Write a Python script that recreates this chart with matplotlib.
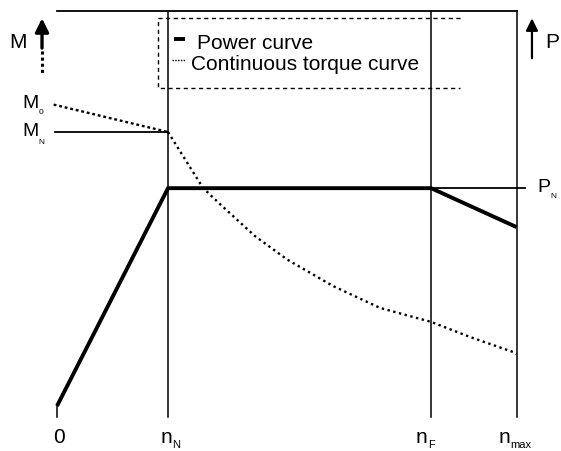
import matplotlib.pyplot as plt
import numpy as np

plt.rcParams['font.family'] = ['Liberation Sans', 'DejaVu Sans']

# speeds (rated speed n_N = 1) and torque/power (rated torque M_N = 1)
n_N = 1.0
n_F = 3.37
n_max = 4.14
M_0 = 1.10
M_N = 1.0
P_N = 0.795
P_max_end = 0.653
top = 1.44
bottom = -0.04

power_n = [0.0, n_N, n_F, n_max]
power_v = [0.0, P_N, P_N, P_max_end]

torque_n = [-0.03, 1.0, 1.315, 1.468, 1.784, 2.072, 2.486, 2.91, 3.37, 3.72, 4.11, 4.14]
torque_v = [M_0, 1.0, 0.796, 0.737, 0.620, 0.535, 0.438, 0.358, 0.307, 0.252, 0.197, 0.19]

tick_pos = [0.0, n_N, n_F, n_max]
tick_main = ['0', 'n', 'n', 'n']
tick_sub = ['', 'N', 'F', 'max']
tick_shift = [0.02, 0.04, -0.03, -0.06]

fig = plt.figure(figsize=(5.61, 4.52), dpi=100)
ax = fig.add_axes([0, 0, 1, 1])
ax.set_xlim(-0.5135, 4.5405)
ax.set_ylim(-0.1642, 1.4854)
ax.axis('off')

# frame lines
ax.plot([0, n_max], [top, top], color='black', lw=1.3)
for x in [n_N, n_F, n_max]:
    ax.plot([x, x], [bottom, top], color='black', lw=1.1)
ax.plot([0, 0], [bottom, 0], color='black', lw=1.1)
ax.plot([-0.02, n_N], [M_N, M_N], color='black', lw=1.3)
ax.plot([n_F, 4.22], [P_N, P_N], color='black', lw=1.3)

# curves
ax.plot(power_n, power_v, color='black', lw=2.8, solid_capstyle='butt')
ax.plot(torque_n[:2], torque_v[:2], color='black', lw=1.7, linestyle=(0, (1.2, 1.2)))
ax.plot(torque_n[1:], torque_v[1:], color='black', lw=1.7, linestyle=(0, (1, 1.5)))

# legend box (open on the right)
bx0, bx1, by0, by1 = 0.91, 3.63, 1.16, 1.416
ax.plot([bx1, bx0, bx0, bx1], [by1, by1, by0, by0], color='black', lw=1.0, linestyle=(0, (3, 2.5)))
ax.plot([1.05, 1.15], [1.34, 1.34], color='black', lw=2.8, solid_capstyle='butt')
ax.text(1.26, 1.327, 'Power curve', fontsize=15, va='center', ha='left')
ax.plot([1.04, 1.15], [1.262, 1.262], color='black', lw=1.0, linestyle=(0, (1, 1)))
ax.text(1.21, 1.25, 'Continuous torque curve', fontsize=15, va='center', ha='left')

# axis arrows
ax.annotate('', xy=(-0.135, 1.425), xytext=(-0.135, 1.296),
            arrowprops=dict(arrowstyle='-|>', lw=2.4, color='black', mutation_scale=20))
ax.plot([-0.135, -0.135], [1.296, 1.21], color='black', lw=2.2, linestyle=(0, (1, 1)))
ax.text(-0.35, 1.33, 'M', fontsize=15, va='center', ha='center')
ax.annotate('', xy=(4.279, 1.425), xytext=(4.279, 1.259),
            arrowprops=dict(arrowstyle='-|>', lw=1.6, color='black', mutation_scale=18))
ax.text(4.465, 1.33, 'P', fontsize=15, va='center', ha='center')

# value labels
ax.text(-0.24, 1.108, 'M', fontsize=14, va='center', ha='center')
ax.text(-0.14, 1.075, '0', fontsize=6, va='center', ha='center')
ax.text(-0.24, 1.005, 'M', fontsize=14, va='center', ha='center')
ax.text(-0.14, 0.965, 'N', fontsize=6, va='center', ha='center')
ax.text(4.39, 0.80, 'P', fontsize=14, va='center', ha='center')
ax.text(4.47, 0.77, 'N', fontsize=6, va='center', ha='center')

for x, m, s, d in zip(tick_pos, tick_main, tick_sub, tick_shift):
    if s:
        ax.text(x + d, -0.113, m, fontsize=15, va='center', ha='right')
        ax.text(x + d, -0.14, s, fontsize=8, va='center', ha='left')
    else:
        ax.text(x + d, -0.113, m, fontsize=15, va='center', ha='center')

fig.savefig('out.png', dpi=100)
